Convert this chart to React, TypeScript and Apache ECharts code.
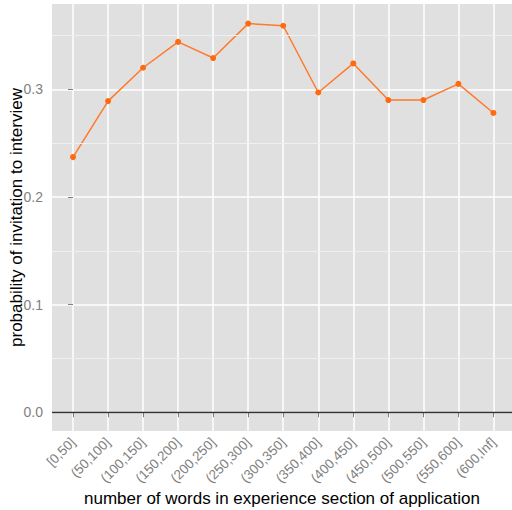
import React, { useEffect, useRef } from "react";
import * as echarts from "echarts";

const categories = [
  "[0,50]", "(50,100]", "(100,150]", "(150,200]", "(200,250]", "(250,300]",
  "(300,350]", "(350,400]", "(400,450]", "(450,500]", "(500,550]", "(550,600]", "(600,Inf]",
];
const probability = [0.237, 0.289, 0.320, 0.344, 0.329, 0.361, 0.359, 0.297, 0.324, 0.290, 0.290, 0.305, 0.278];
const yMajorTicks = [0, 0.1, 0.2, 0.3];
const yMinorTicks = [0.05, 0.15, 0.25, 0.35];

export default function App() {
  const ref = useRef<HTMLDivElement>(null);
  useEffect(() => {
    document.body.style.margin = "0";
    const chart = echarts.init(ref.current!, null, { renderer: "svg" });
    const idx = categories.map((_, i) => i);
    chart.setOption({
      animation: false,
      grid: {
        left: 52, right: 0, top: 4, bottom: 79,
        show: true, backgroundColor: "#E0E0E0", borderWidth: 0,
        outerBoundsMode: "none",
      },
      xAxis: {
        type: "value",
        min: -0.6,
        max: 12.53,
        name: "number of words in experience section of application",
        nameLocation: "middle",
        nameGap: 59,
        nameMoveOverlap: false,
        nameTextStyle: { color: "#000", fontSize: 17, fontFamily: "Liberation Sans" },
        axisLine: { show: false },
        axisTick: { show: true, customValues: idx, length: 5, lineStyle: { color: "#7F7F7F", width: 1 } },
        axisLabel: {
          customValues: idx,
          formatter: (v: number) => categories[Math.round(v)] ?? "",
          rotate: 45,
          color: "#7F7F7F",
          fontSize: 13.5,
          fontFamily: "Liberation Sans",
          margin: 9,
        },
        splitLine: { show: true, lineStyle: { color: "#FFFFFF", width: 1.5 } },
      },
      yAxis: {
        type: "value",
        min: -0.0174,
        max: 0.3792,
        name: "probability of invitation to interview",
        nameLocation: "middle",
        nameGap: 27,
        nameMoveOverlap: false,
        nameTextStyle: { color: "#000", fontSize: 17, fontFamily: "Liberation Sans" },
        axisLine: { show: false },
        axisTick: { show: true, customValues: yMajorTicks, length: 5, lineStyle: { color: "#7F7F7F", width: 1 } },
        axisLabel: {
          customValues: yMajorTicks,
          formatter: (v: number) => v.toFixed(1),
          color: "#7F7F7F",
          fontSize: 14,
          fontFamily: "Liberation Sans",
          margin: 9,
        },
        splitLine: { show: true, lineStyle: { color: "#FFFFFF", width: 1.5 } },
      },
      series: [
        {
          type: "line",
          data: [],
          z: 1,
          silent: true,
          markLine: {
            silent: true,
            symbol: ["none", "none"],
            label: { show: false },
            lineStyle: { color: "#F0F0F0", width: 1, type: "solid" },
            data: yMinorTicks.map((v) => ({ yAxis: v })),
          },
        },
        {
          type: "line",
          data: [],
          z: 2,
          silent: true,
          markLine: {
            silent: true,
            symbol: ["none", "none"],
            label: { show: false },
            lineStyle: { color: "#333333", width: 1.4, type: "solid" },
            data: [{ yAxis: 0 }],
          },
        },
        {
          type: "line",
          z: 3,
          data: probability.map((v, i) => [i, v]),
          symbol: "circle",
          symbolSize: 6,
          itemStyle: { color: "#FF6A10" },
          lineStyle: { color: "#FF7A2A", width: 1.5 },
        },
      ],
    });
    return () => chart.dispose();
  }, []);
  return <div ref={ref} style={{ width: 512, height: 510 }} />;
}
